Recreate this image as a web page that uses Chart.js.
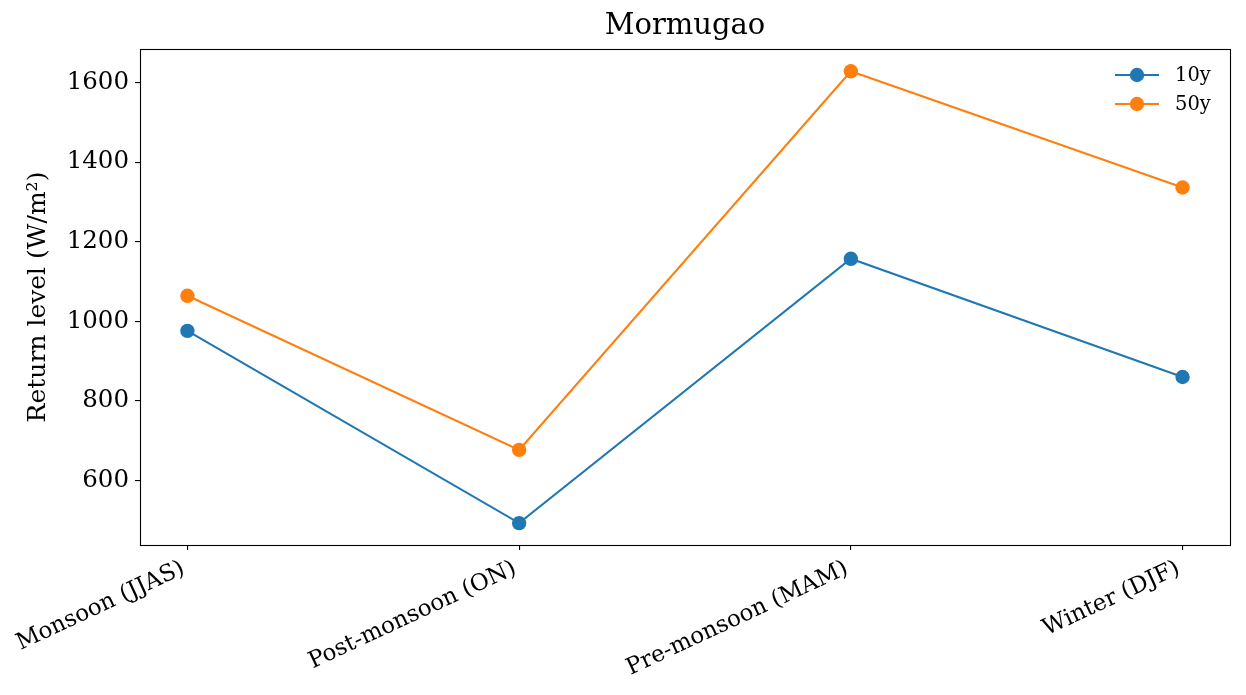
<!DOCTYPE html>
<html>
<head>
<meta charset="utf-8">
<script src="https://cdn.jsdelivr.net/npm/chart.js@4/dist/chart.umd.min.js"></script>
<style>
  html, body { margin: 0; padding: 0; background: #ffffff; }
  #wrap { width: 1246px; height: 695px; }
</style>
</head>
<body>
<div id="wrap"><canvas id="c" width="1246" height="695"></canvas></div>
<script>
// ---- data ----
const chartTitle = 'Mormugao';
const yAxisLabel = 'Return level (W/m\u00B2)';
const categories = ['Monsoon (JJAS)', 'Post-monsoon (ON)', 'Pre-monsoon (MAM)', 'Winter (DJF)'];
const seriesNames = ['10y', '50y'];
const returnLevel10y = [976, 493, 1157, 860];
const returnLevel50y = [1064, 677, 1628, 1336];
const yRange = [438, 1684];
const yStep = 200;

const FONT = 'DejaVu Serif';
Chart.defaults.font.family = FONT;
Chart.defaults.color = '#000000';

const toPoints = arr => arr.map((v, i) => ({ x: i, y: v }));

const framePlugin = {
  id: 'frame',
  afterDatasetsDraw(chart) {
    const { ctx, chartArea: a } = chart;
    ctx.save();
    ctx.strokeStyle = '#000000';
    ctx.lineWidth = 1.1;
    ctx.strokeRect(Math.round(a.left) + 0.5, Math.round(a.top) + 0.5,
                   Math.round(a.right - a.left), Math.round(a.bottom - a.top));
    ctx.restore();
  }
};

const legendPlugin = {
  id: 'mplLegend',
  afterDraw(chart) {
    const { ctx, chartArea: a } = chart;
    ctx.save();
    chart.data.datasets.forEach((ds, i) => {
      const cy = a.top + 26 + i * 29;
      const x0 = a.right - 115, x1 = a.right - 71;
      ctx.strokeStyle = ds.borderColor;
      ctx.lineWidth = 2.1;
      ctx.beginPath();
      ctx.moveTo(x0, cy);
      ctx.lineTo(x1, cy);
      ctx.stroke();
      ctx.fillStyle = ds.backgroundColor;
      ctx.beginPath();
      ctx.arc((x0 + x1) / 2, cy, 7.2, 0, Math.PI * 2);
      ctx.fill();
      ctx.fillStyle = '#000000';
      ctx.font = '19.5px "' + FONT + '"';
      ctx.textAlign = 'left';
      ctx.textBaseline = 'middle';
      ctx.fillText(ds.label, a.right - 55, cy + 1);
    });
    ctx.restore();
  }
};

new Chart(document.getElementById('c'), {
  type: 'line',
  data: {
    datasets: [
      {
        label: seriesNames[0],
        data: toPoints(returnLevel10y),
        borderColor: '#1f77b4',
        backgroundColor: '#1f77b4',
        borderWidth: 2.1,
        pointRadius: 7.2,
        pointBorderWidth: 0,
        pointHoverRadius: 7.2,
        tension: 0,
        clip: false
      },
      {
        label: seriesNames[1],
        data: toPoints(returnLevel50y),
        borderColor: '#ff7f0e',
        backgroundColor: '#ff7f0e',
        borderWidth: 2.1,
        pointRadius: 7.2,
        pointBorderWidth: 0,
        pointHoverRadius: 7.2,
        tension: 0,
        clip: false
      }
    ]
  },
  options: {
    responsive: false,
    animation: false,
    layout: { padding: { left: 0, right: 16, top: 0, bottom: 0 } },
    plugins: {
      legend: { display: false },
      tooltip: { enabled: false },
      title: {
        display: true,
        fullSize: false,
        text: chartTitle,
        color: '#000000',
        font: { family: FONT, size: 29, weight: 'normal', lineHeight: 1.2 },
        padding: { top: 9, bottom: 5.2 }
      }
    },
    scales: {
      x: {
        type: 'linear',
        min: -0.143,
        max: categories.length - 1 + 0.143,
        border: { display: false },
        grid: { drawOnChartArea: false, drawTicks: true, tickLength: 5, color: '#000000', lineWidth: 1.1 },
        ticks: {
          stepSize: 1,
          includeBounds: false,
          autoSkip: false,
          minRotation: 25,
          maxRotation: 25,
          padding: 5,
          labelOffset: -4,
          color: '#000000',
          font: { family: FONT, size: 23 },
          callback: v => (Number.isInteger(v) && categories[v] !== undefined) ? categories[v] : ''
        },
        afterFit(scale) { scale.height = 150; }
      },
      y: {
        type: 'linear',
        min: yRange[0],
        max: yRange[1],
        border: { display: false },
        grid: { drawOnChartArea: false, drawTicks: true, tickLength: 5, color: '#000000', lineWidth: 1.1 },
        ticks: {
          stepSize: yStep,
          includeBounds: false,
          padding: 6,
          color: '#000000',
          font: { family: FONT, size: 24.5 },
          callback: v => String(v)
        },
        title: {
          display: true,
          text: yAxisLabel,
          color: '#000000',
          font: { family: FONT, size: 25, lineHeight: 1.2 },
          padding: { top: 23, bottom: 0 }
        },
        afterFit(scale) { scale.width = 140; }
      }
    }
  },
  plugins: [framePlugin, legendPlugin]
});
</script>
</body>
</html>
